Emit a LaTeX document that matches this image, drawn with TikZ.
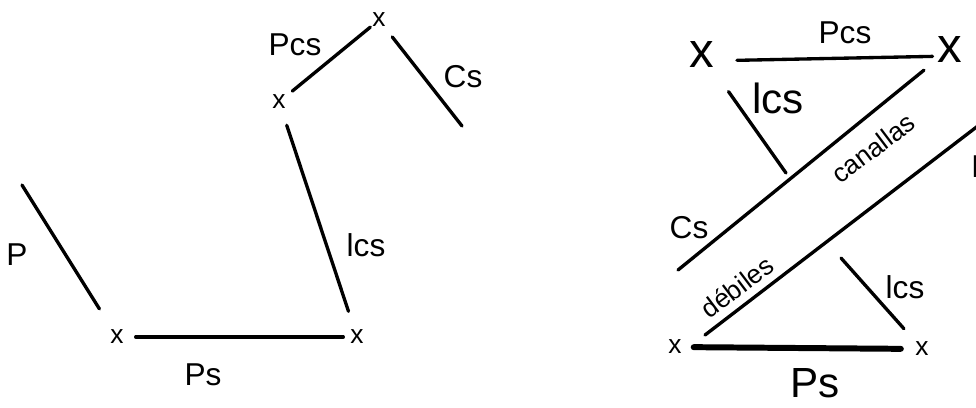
\documentclass[tikz,border=0pt]{standalone}
\usepackage{fontspec}
\setmainfont{Liberation Sans}
\usetikzlibrary{positioning}

\begin{document}
\begin{tikzpicture}[
    x=0.02cm, y=-0.02cm,
    cross/.style={inner sep=1pt, font=\fontsize{15}{15}\selectfont},
    bigcross/.style={inner sep=1pt, font=\fontsize{28}{28}\selectfont},
    stroke/.style={line width=1.9pt, line cap=round},
    heavy/.style={line width=3.4pt, line cap=round},
    lbl/.style={inner sep=0pt, font=\fontsize{18}{18}\selectfont},
    biglbl/.style={inner sep=0pt, font=\fontsize{24}{24}\selectfont},
    slant/.style={inner sep=0pt, font=\fontsize{15}{15}\selectfont, rotate=37}
]
\useasboundingbox (0,0) rectangle (976,407);

% left sketch
\node[cross] (sl) at (117,337) {x};
\node[cross] (sr) at (357,337) {x};
\node[cross] (cl) at (279,102) {x};
\node[cross] (cr) at (379,20) {x};
\coordinate (ptop) at (22,185);
\coordinate (csend) at (462,126);

\draw[stroke, shorten >=0.45cm] (ptop) -- (sl);
\draw[stroke, shorten <=0.2cm, shorten >=0.1cm] (sl) -- (sr);
\draw[stroke, shorten <=0.3cm, shorten >=0.35cm] (cl) -- (sr);
\draw[stroke, shorten <=0.12cm] (cl) -- (cr);
\draw[stroke, shorten <=0.2cm] (cr) -- (csend);

\node[lbl] (lp) at (17,255) {P};
\node[lbl] (lps) at (203,375) {Ps};
\node[lbl] (llcs) at (366,245) {lcs};
\node[lbl] (lpcs) at (295,45) {Pcs};
\node[lbl] (lcs) at (463,77) {Cs};

% right sketch
\node[bigcross] (tl) at (702,54) {x};
\node[bigcross] (tr) at (950,49) {x};
\node[cross] (bl) at (675,347) {x};
\node[cross] (br) at (922,349) {x};
\coordinate (lcsend) at (786,173);
\coordinate (csstart) at (678,270);
\coordinate (pstart) at (705,335);
\coordinate (pfar) at (1000,109);
\coordinate (lcsstart) at (841,258);

\draw[stroke, shorten <=0.7cm, shorten >=0.35cm] ([yshift=-4pt]tl.center) -- ([yshift=-4pt]tr.center);
\draw[stroke, shorten <=0.55cm] (tl) -- (lcsend);
\draw[stroke, shorten >=0.3cm] (csstart) -- (tr);
\draw[stroke] (pstart) -- (pfar);
\draw[stroke, shorten >=0.3cm] (lcsstart) -- (br);
\draw[heavy, shorten <=0.2cm, shorten >=0.25cm] (bl) -- (br);

\node[lbl] (rpcs) at (845,33) {Pcs};
\node[biglbl] (rlcs) at (778,98) {lcs};
\node[lbl] (rcs) at (689,228) {Cs};
\node[slant] (can) at (873,148) {canallas};
\node[slant] (deb) at (737,287) {débiles};
\node[lbl] (rp) at (982,167) {P};
\node[lbl] (rlcsb) at (905,287) {lcs};
\node[biglbl] (rps) at (815,383) {Ps};
\end{tikzpicture}
\end{document}
